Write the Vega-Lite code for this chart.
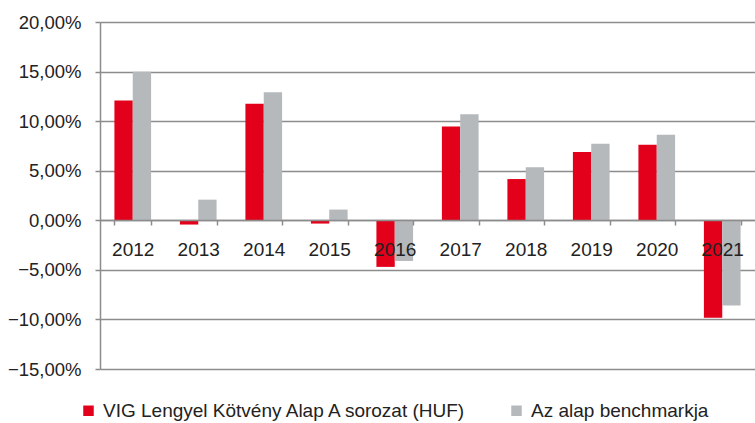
{
  "$schema": "https://vega.github.io/schema/vega-lite/v6.json",
  "autosize": "none",
  "padding": {"left": 100, "top": 22, "right": 0, "bottom": 54},
  "width": 655,
  "height": 347,
  "background": "white",
  "data": {
    "values": [
      {"year": "2012", "series": "VIG Lengyel Kötvény Alap A sorozat (HUF)", "value": 0.1208},
      {"year": "2012", "series": "Az alap benchmarkja", "value": 0.1497},
      {"year": "2013", "series": "VIG Lengyel Kötvény Alap A sorozat (HUF)", "value": -0.0043},
      {"year": "2013", "series": "Az alap benchmarkja", "value": 0.0208},
      {"year": "2014", "series": "VIG Lengyel Kötvény Alap A sorozat (HUF)", "value": 0.1175},
      {"year": "2014", "series": "Az alap benchmarkja", "value": 0.1292},
      {"year": "2015", "series": "VIG Lengyel Kötvény Alap A sorozat (HUF)", "value": -0.0033},
      {"year": "2015", "series": "Az alap benchmarkja", "value": 0.0108},
      {"year": "2016", "series": "VIG Lengyel Kötvény Alap A sorozat (HUF)", "value": -0.047},
      {"year": "2016", "series": "Az alap benchmarkja", "value": -0.041},
      {"year": "2017", "series": "VIG Lengyel Kötvény Alap A sorozat (HUF)", "value": 0.0947},
      {"year": "2017", "series": "Az alap benchmarkja", "value": 0.107},
      {"year": "2018", "series": "VIG Lengyel Kötvény Alap A sorozat (HUF)", "value": 0.0416},
      {"year": "2018", "series": "Az alap benchmarkja", "value": 0.0534},
      {"year": "2019", "series": "VIG Lengyel Kötvény Alap A sorozat (HUF)", "value": 0.0688},
      {"year": "2019", "series": "Az alap benchmarkja", "value": 0.0772},
      {"year": "2020", "series": "VIG Lengyel Kötvény Alap A sorozat (HUF)", "value": 0.0762},
      {"year": "2020", "series": "Az alap benchmarkja", "value": 0.0863},
      {"year": "2021", "series": "VIG Lengyel Kötvény Alap A sorozat (HUF)", "value": -0.0984},
      {"year": "2021", "series": "Az alap benchmarkja", "value": -0.0859}
    ]
  },
  "mark": {"type": "bar"},
  "encoding": {
    "x": {
      "field": "year",
      "type": "nominal",
      "scale": {"paddingInner": 0.44, "paddingOuter": 0.22},
      "axis": {
        "title": null,
        "labelAngle": 0,
        "offset": -149,
        "tickBand": "extent",
        "tickSize": 5,
        "tickColor": "#8c8c8c",
        "tickWidth": 1.5,
        "domainColor": "#8c8c8c",
        "domainWidth": 1.5,
        "labelFont": "Liberation Sans",
        "labelFontSize": 19,
        "labelColor": "#222222",
        "labelPadding": 15,
        "zindex": 1
      }
    },
    "xOffset": {
      "field": "series",
      "type": "nominal",
      "sort": ["VIG Lengyel Kötvény Alap A sorozat (HUF)", "Az alap benchmarkja"],
      "scale": {"paddingInner": 0, "paddingOuter": 0}
    },
    "y": {
      "field": "value",
      "type": "quantitative",
      "scale": {"domain": [-0.15, 0.2], "nice": false, "zero": false},
      "axis": {
        "title": null,
        "values": [-0.15, -0.1, -0.05, 0, 0.05, 0.1, 0.15, 0.2],
        "labelExpr": "replace(format(datum.value, '.2%'), '.', ',')",
        "grid": true,
        "gridColor": "#8c8c8c",
        "gridWidth": 1.5,
        "domainColor": "#8c8c8c",
        "domainWidth": 1.5,
        "tickColor": "#8c8c8c",
        "tickWidth": 1.5,
        "tickSize": 5,
        "labelFont": "Liberation Sans",
        "labelFontSize": 18.5,
        "labelColor": "#222222",
        "labelPadding": 14
      }
    },
    "color": {
      "field": "series",
      "type": "nominal",
      "sort": ["VIG Lengyel Kötvény Alap A sorozat (HUF)", "Az alap benchmarkja"],
      "scale": {
        "domain": ["VIG Lengyel Kötvény Alap A sorozat (HUF)", "Az alap benchmarkja"],
        "range": ["#e2001a", "#b5b9bc"]
      },
      "legend": {
        "title": null,
        "orient": "none",
        "direction": "horizontal",
        "legendX": -21,
        "legendY": 379,
        "symbolType": "square",
        "symbolSize": 110,
        "symbolStrokeWidth": 0,
        "labelFont": "Liberation Sans",
        "labelFontSize": 19,
        "labelColor": "#222222",
        "labelOffset": 5,
        "columnPadding": 39,
        "labelLimit": 500
      }
    }
  },
  "config": {
    "view": {"stroke": null}
  }
}
